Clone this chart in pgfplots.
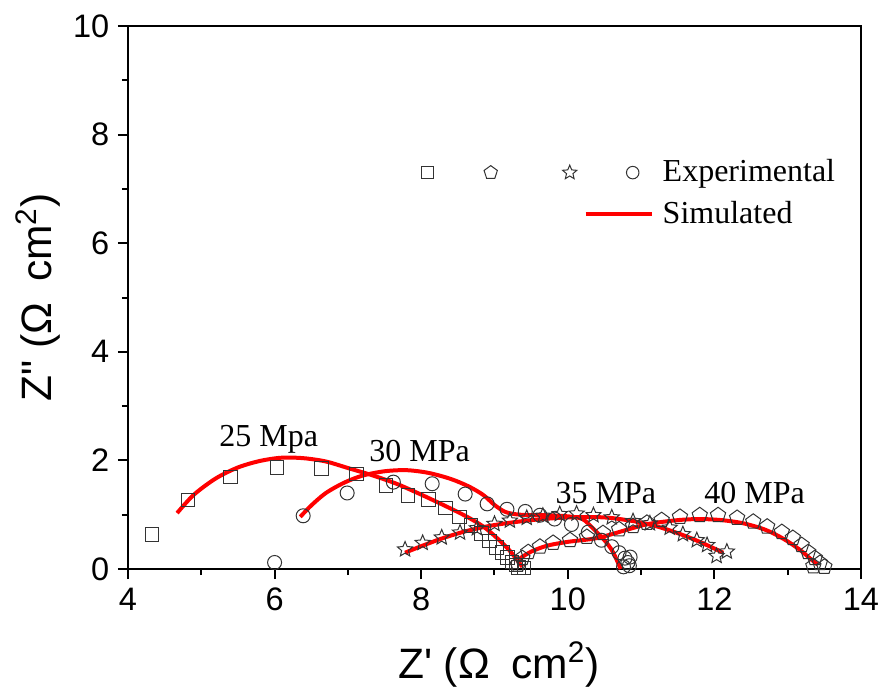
\documentclass[border=0pt]{standalone}
\usepackage{fontspec}
\setmainfont{Liberation Sans}
\newfontfamily\tnr{Liberation Serif}
\usepackage{pgfplots}
\pgfplotsset{compat=1.18}
\usetikzlibrary{plotmarks}

\definecolor{markc}{HTML}{333333}
\definecolor{simred}{HTML}{FF0000}

% outlined five-pointed star
\pgfdeclareplotmark{ostar}{%
  \pgfpathmoveto{\pgfpointpolar{90}{\pgfplotmarksize}}%
  \pgfpathlineto{\pgfpointpolar{126}{0.45*\pgfplotmarksize}}%
  \pgfpathlineto{\pgfpointpolar{162}{\pgfplotmarksize}}%
  \pgfpathlineto{\pgfpointpolar{198}{0.45*\pgfplotmarksize}}%
  \pgfpathlineto{\pgfpointpolar{234}{\pgfplotmarksize}}%
  \pgfpathlineto{\pgfpointpolar{270}{0.45*\pgfplotmarksize}}%
  \pgfpathlineto{\pgfpointpolar{306}{\pgfplotmarksize}}%
  \pgfpathlineto{\pgfpointpolar{342}{0.45*\pgfplotmarksize}}%
  \pgfpathlineto{\pgfpointpolar{18}{\pgfplotmarksize}}%
  \pgfpathlineto{\pgfpointpolar{54}{0.45*\pgfplotmarksize}}%
  \pgfpathclose\pgfusepathqstroke}

\begin{document}
\begin{tikzpicture}
  \begin{axis}[
    scale only axis, width=293.2pt, height=217.2pt,
    xmin=4, xmax=14, ymin=0, ymax=10,
    xtick={4,6,...,14}, ytick={0,2,...,10}, minor tick num=1,
    tick align=outside, xtick pos=left, ytick pos=left,
    major tick length=4pt, minor tick length=2.4pt,
    axis line style={line width=0.8pt}, tick style={line width=0.8pt, black},
    /pgf/number format/assume math mode=true,
    tick label style={font=\fontsize{13}{16}\selectfont},
    label style={font=\fontsize{17}{20}\selectfont},
    xlabel={Z\textquotesingle\ (Ω\enspace cm\textsuperscript{2})},
    ylabel={Z\textquotedbl\ (Ω\enspace cm\textsuperscript{2})},
    xlabel style={at={(axis description cs:0.506,-0.176)}, anchor=center},
    ylabel style={at={(axis description cs:-0.1228,0.5)}, anchor=center},
    clip=false,
    legend style={at={(rel axis cs:0.3997,0.764)}, anchor=north west,
                  draw=none, fill=none, inner sep=0pt,
                  font=\tnr\fontsize{12.8}{15.6}\selectfont,
                  cells={anchor=west}, row sep=2.2pt},
  ]
    \coordinate (bbll) at (rel axis cs:-0.1746,-0.2228);
    \coordinate (bbur) at (rel axis cs:1.0273,1.0479);

    \addlegendimage{legend image code/.code={
      \path[draw=none] (-2.5pt,0pt) -- (92pt,0pt);
      \draw[markc, line width=0.4pt, mark size=2.3pt] plot[only marks, mark=square] coordinates {(0pt,0pt)};
      \draw[markc, line width=0.4pt, mark size=2.8pt] plot[only marks, mark=pentagon] coordinates {(25.2pt,0pt)};
      \draw[markc, line width=0.4pt, mark size=3pt] plot[only marks, mark=ostar] coordinates {(56.8pt,0pt)};
      \draw[markc, line width=0.4pt, mark size=2.5pt] plot[only marks, mark=o] coordinates {(82pt,0pt)};
    }}
    \addlegendentry{Experimental}
    \addlegendimage{legend image code/.code={
      \path[draw=none] (-2.5pt,0pt) -- (92pt,0pt);
      \draw[simred, line width=1.6pt] (63.2pt,0pt) -- (89.6pt,0pt);
    }}
    \addlegendentry{Simulated}

    % experimental, 25 MPa
    \addplot[only marks, mark=square, mark size=2.7pt, markc, line width=0.4pt, forget plot]
      coordinates {(4.33,0.64) (4.82,1.27) (5.40,1.69) (6.03,1.87) (6.64,1.85) (7.12,1.75)
                   (7.52,1.54) (7.82,1.35) (8.10,1.28) (8.33,1.12) (8.52,0.96) (8.68,0.80)
                   (8.82,0.65) (8.93,0.52) (9.03,0.40) (9.11,0.30) (9.18,0.21) (9.24,0.13)
                   (9.29,0.07) (9.33,0.03) (9.40,0.02)};
    % experimental, 30 MPa
    \addplot[only marks, mark=o, mark size=2.8pt, markc, line width=0.4pt, forget plot]
      coordinates {(6.00,0.12) (6.39,0.98) (6.99,1.40) (7.62,1.60) (8.15,1.57) (8.60,1.38)
                   (8.90,1.20) (9.17,1.10) (9.42,1.06) (9.62,0.99) (9.82,0.92) (10.05,0.82)
                   (10.28,0.68) (10.46,0.53) (10.60,0.41) (10.70,0.30) (10.78,0.20)
                   (10.82,0.12) (10.84,0.06) (10.85,0.22) (10.76,0.04)};
    % experimental, 35 MPa
    \addplot[only marks, mark=ostar, mark size=3.2pt, markc, line width=0.4pt, forget plot]
      coordinates {(7.78,0.36) (8.02,0.48) (8.28,0.58) (8.53,0.67) (8.76,0.75) (9.00,0.83)
                   (9.21,0.89) (9.44,0.94) (9.66,0.98) (9.89,1.01) (10.12,1.02) (10.35,0.99)
                   (10.60,0.95) (10.89,0.88) (11.12,0.84) (11.39,0.76) (11.57,0.64)
                   (11.76,0.53) (11.90,0.44) (12.03,0.24) (12.17,0.32)};
    % experimental, 40 MPa
    \addplot[only marks, mark=pentagon, mark size=3.2pt, markc, line width=0.4pt, forget plot]
      coordinates {(9.32,0.08) (9.38,0.20) (9.46,0.31) (9.62,0.41) (9.80,0.48) (10.03,0.53)
                   (10.26,0.59) (10.48,0.66) (10.70,0.73) (10.89,0.79) (11.08,0.85)
                   (11.28,0.90) (11.53,0.96) (11.80,0.99) (12.05,0.99) (12.31,0.94)
                   (12.53,0.87) (12.72,0.78) (12.92,0.68) (13.07,0.57) (13.19,0.44)
                   (13.28,0.31) (13.37,0.20) (13.44,0.11) (13.35,0.05) (13.50,0.04)};

    % simulated curves
    \addplot[simred, line width=1.6pt, smooth, forget plot]
      coordinates {(4.67,1.03) (4.90,1.37) (5.20,1.67) (5.50,1.87) (5.80,1.99) (6.10,2.05)
                   (6.40,2.04) (6.70,1.98) (7.00,1.86) (7.30,1.74) (7.50,1.65) (7.70,1.55)
                   (8.00,1.37) (8.30,1.18) (8.60,0.98) (8.85,0.78) (9.05,0.55) (9.20,0.35)
                   (9.30,0.18) (9.38,0.04)};
    \addplot[simred, line width=1.6pt, smooth, forget plot]
      coordinates {(6.35,0.96) (6.50,1.17) (6.70,1.40) (6.95,1.59) (7.20,1.72) (7.50,1.80)
                   (7.80,1.82) (8.10,1.77) (8.40,1.66) (8.65,1.52) (8.85,1.36) (9.00,1.18)
                   (9.15,1.05) (9.35,1.00) (9.70,0.99) (10.00,0.97) (10.20,0.92)
                   (10.35,0.74) (10.50,0.53) (10.60,0.35) (10.67,0.16) (10.72,0.00)};
    \addplot[simred, line width=1.6pt, smooth, forget plot]
      coordinates {(7.78,0.30) (8.00,0.42) (8.30,0.57) (8.62,0.70) (9.00,0.81) (9.50,0.90)
                   (10.00,0.95) (10.50,0.95) (10.90,0.88) (11.20,0.79) (11.50,0.66)
                   (11.80,0.50) (12.12,0.30)};
    \addplot[simred, line width=1.6pt, smooth, forget plot]
      coordinates {(9.33,0.18) (9.50,0.32) (9.72,0.43) (10.00,0.50) (10.40,0.57) (10.80,0.72)
                   (11.10,0.83) (11.50,0.90) (11.80,0.92) (12.10,0.90) (12.40,0.84)
                   (12.70,0.72) (12.95,0.55) (13.17,0.35) (13.30,0.20) (13.41,0.08)};

    \node[font=\tnr\fontsize{12.8}{15}\selectfont] at (axis cs:5.92,2.38) {25 Mpa};
    \node[font=\tnr\fontsize{12.8}{15}\selectfont] at (axis cs:7.98,2.17) {30 MPa};
    \node[font=\tnr\fontsize{12.8}{15}\selectfont] at (axis cs:10.52,1.40) {35 MPa};
    \node[font=\tnr\fontsize{12.8}{15}\selectfont] at (axis cs:12.55,1.40) {40 MPa};
  \end{axis}
  \pgfresetboundingbox
  \path[use as bounding box] (bbll) rectangle (bbur);
\end{tikzpicture}
\end{document}
